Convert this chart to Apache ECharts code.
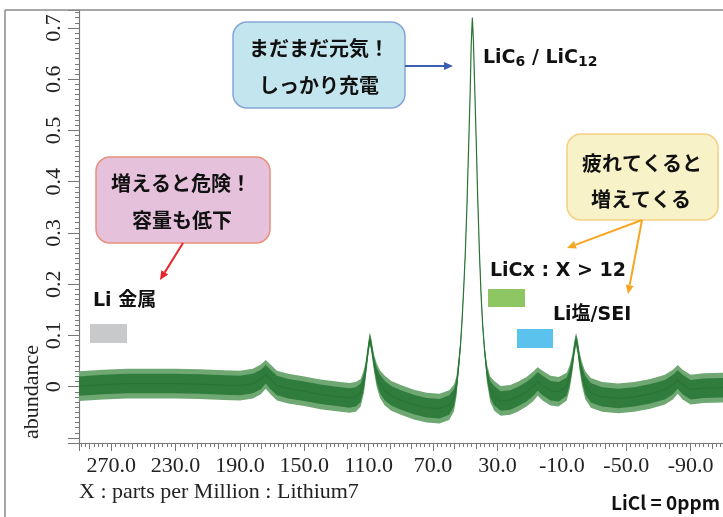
<!DOCTYPE html>
<html>
<head>
<meta charset="utf-8">
<script src="https://cdn.jsdelivr.net/npm/echarts@6/dist/echarts.min.js"></script>
<style>
html, body { margin: 0; padding: 0; background: #fff; }
#chart { width: 723px; height: 517px; }
</style>
</head>
<body>
<div id="chart"></div>
<script>
// 7Li NMR spectrum (ppm, abundance)
var ppm = [290, 275, 260, 245, 230, 215, 200, 190, 182, 177, 174, 171, 167, 160, 150, 140, 130, 122, 118, 115,
           113, 112, 111, 110, 109.3, 108.5, 107.5, 106.5, 105, 103, 100, 96, 90, 82, 74, 66, 60, 57, 55.5, 54,
           53, 52, 51, 50, 49, 48, 47, 46.3, 45.6, 44.9, 44.2, 43.3, 42.3, 41.2, 40.2, 39.2, 38, 36.5, 34.5, 32,
           28, 22, 17, 12, 8, 5, 2, -3, -8, -13, -15, -16.5, -17.8, -18.8, -19.8, -21, -22.5, -24.5, -28, -35,
           -45, -55, -65, -74, -79, -82, -85, -90, -98, -110, -130];
var abundance = [0.001, 0.004, 0.006, 0.006, 0.006, 0.005, 0.003, 0.002, 0.006, 0.014, 0.024, 0.014, 0.002, -0.004, -0.009, -0.015, -0.019, -0.022, -0.02, -0.012,
                 0.01, 0.03, 0.055, 0.08, 0.093, 0.083, 0.062, 0.043, 0.022, 0.005, -0.008, -0.018, -0.026, -0.035, -0.041, -0.043, -0.036, -0.022, 0.0, 0.045,
                 0.08, 0.13, 0.19, 0.26, 0.35, 0.46, 0.57, 0.67, 0.72, 0.67, 0.59, 0.49, 0.37, 0.26, 0.18, 0.12, 0.07, 0.025, -0.005, -0.018,
                 -0.028, -0.026, -0.019, -0.01, 0.0, 0.01, 0.002, -0.008, -0.01, 0.0, 0.02, 0.045, 0.075, 0.092, 0.078, 0.05, 0.025, 0.003, -0.012, -0.02,
                 -0.023, -0.02, -0.014, -0.006, 0.004, 0.014, 0.004, -0.006, -0.003, -0.002, -0.002];
// half thickness of the noise band: dense core and the spikes
var noiseCore = [0.019, 0.019, 0.019, 0.019, 0.019, 0.019, 0.019, 0.019, 0.019, 0.019, 0.018, 0.019, 0.019, 0.019, 0.019, 0.019, 0.019, 0.019, 0.019, 0.018,
                 0.015, 0.012, 0.01, 0.009, 0.009, 0.009, 0.01, 0.012, 0.015, 0.018, 0.019, 0.019, 0.019, 0.019, 0.019, 0.019, 0.019, 0.017, 0.013, 0.01,
                 0.007, 0.005, 0.004, 0.003, 0.003, 0.002, 0.002, 0.002, 0.0015, 0.002, 0.002, 0.002, 0.003, 0.003, 0.004, 0.005, 0.007, 0.012, 0.016, 0.019,
                 0.019, 0.019, 0.019, 0.019, 0.019, 0.018, 0.019, 0.019, 0.019, 0.018, 0.015, 0.012, 0.01, 0.009, 0.01, 0.012, 0.015, 0.018, 0.019, 0.019,
                 0.019, 0.019, 0.019, 0.019, 0.019, 0.018, 0.019, 0.019, 0.019, 0.019, 0.019];
var noiseSpike = [0.029, 0.029, 0.029, 0.029, 0.029, 0.029, 0.029, 0.029, 0.029, 0.029, 0.028, 0.029, 0.029, 0.029, 0.029, 0.029, 0.029, 0.029, 0.029, 0.027,
                  0.023, 0.018, 0.015, 0.013, 0.013, 0.013, 0.015, 0.018, 0.023, 0.027, 0.029, 0.029, 0.029, 0.029, 0.029, 0.029, 0.029, 0.026, 0.02, 0.015,
                  0.01, 0.007, 0.005, 0.004, 0.004, 0.003, 0.003, 0.003, 0.002, 0.003, 0.003, 0.003, 0.004, 0.004, 0.005, 0.007, 0.01, 0.018, 0.025, 0.029,
                  0.029, 0.029, 0.029, 0.029, 0.029, 0.028, 0.029, 0.029, 0.029, 0.027, 0.023, 0.018, 0.015, 0.013, 0.015, 0.018, 0.023, 0.027, 0.029, 0.029,
                  0.029, 0.029, 0.029, 0.029, 0.029, 0.028, 0.029, 0.029, 0.029, 0.029, 0.029];

var xLabels = [270, 230, 190, 150, 110, 70, 30, -10, -50, -90];
var yLabels = [0, 0.1, 0.2, 0.3, 0.4, 0.5, 0.6, 0.7];

var centre = [];
for (var i = 0; i < ppm.length; i++) {
    centre.push([ppm[i], abundance[i]]);
}

var axisGrey = '#777';
var jp = '"Noto Sans CJK JP", "Noto Sans", sans-serif';
var latin = '"DejaVu Sans", "Noto Sans CJK JP", sans-serif';
var serif = '"Liberation Serif", "DejaVu Serif", serif';

function box(x, y, w, h, fill, stroke) {
    return { type: 'rect', shape: { x: x, y: y, width: w, height: h, r: 14 },
             style: { fill: fill, stroke: stroke, lineWidth: 1.5 }, z: 10 };
}
function label(text, x, y, opts) {
    opts = opts || {};
    return { type: 'text', x: x, y: y, rotation: opts.rotation || 0, z: 11,
             style: { text: text, fill: opts.fill || '#111', align: opts.align || 'left', verticalAlign: 'middle',
                      font: opts.font || ('bold 19px ' + latin), rich: opts.rich, lineHeight: opts.lineHeight } };
}
function swatch(x, y, w, h, color) {
    return { type: 'rect', shape: { x: x, y: y, width: w, height: h }, style: { fill: color }, z: 10 };
}
function arrow(x1, y1, x2, y2, color) {
    var a = Math.atan2(y2 - y1, x2 - x1), L = 9, W = 4;
    var bx = x2 - L * Math.cos(a), by = y2 - L * Math.sin(a);
    return [
        { type: 'line', shape: { x1: x1, y1: y1, x2: bx, y2: by }, style: { stroke: color, lineWidth: 2 }, z: 10 },
        { type: 'polygon', shape: { points: [[x2, y2], [bx - W * Math.sin(a), by + W * Math.cos(a)], [bx + W * Math.sin(a), by - W * Math.cos(a)]] },
          style: { fill: color }, z: 10 }
    ];
}

// noise band drawn as one polygon through the axes
function band(halfWidth, color) {
    return function (params, api) {
        var pts = [];
        for (var k = 0; k < ppm.length; k++) pts.push(api.coord([ppm[k], abundance[k] + halfWidth[k]]));
        for (var k = ppm.length - 1; k >= 0; k--) pts.push(api.coord([ppm[k], abundance[k] - halfWidth[k]]));
        return { type: 'polygon', shape: { points: pts }, style: { fill: color } };
    };
}

var chartDom = document.getElementById('chart');
var myChart = echarts.init(chartDom);
var option;

var graphics = [
    { type: 'line', shape: { x1: 5, y1: 10, x2: 723, y2: 10 }, style: { stroke: '#8a8a8a', lineWidth: 1.5 }, z: 5 },
    { type: 'line', shape: { x1: 5, y1: 10, x2: 5, y2: 517 }, style: { stroke: '#8a8a8a', lineWidth: 1.5 }, z: 5 },
    label('abundance', 32, 392, { rotation: Math.PI / 2, align: 'center', font: '22px ' + serif, fill: '#222' }),
    label('X : parts per Million : Lithium7', 79, 492, { font: '22px ' + serif, fill: '#222' }),
    label('LiCl = 0ppm', 720, 503, { align: 'right', font: 'bold 19px ' + jp }),

    box(233, 22, 172, 86, '#c3e5ed', '#86a6d6'),
    label('まだまだ元気！', 319, 48, { align: 'center', font: 'bold 20px ' + jp }),
    label('しっかり充電', 319, 85, { align: 'center', font: 'bold 20px ' + jp }),
    label('LiC{s|6} / LiC{s|12}', 483, 58, { lineHeight: 22,
        rich: { s: { fontSize: 14, fontWeight: 'bold', fontFamily: latin, lineHeight: 12, verticalAlign: 'bottom' } } }),

    box(96, 157, 174, 86, '#e5c1dc', '#e9907c'),
    label('増えると危険！', 181, 183, { align: 'center', font: 'bold 20px ' + jp }),
    label('容量も低下', 182, 220, { align: 'center', font: 'bold 20px ' + jp }),
    label('Li 金属', 93, 301),
    swatch(90, 324, 37, 19, '#c8c9cb'),

    box(567, 134, 151, 86, '#f8f2c9', '#f5cf82'),
    label('疲れてくると', 642, 163, { align: 'center', font: 'bold 20px ' + jp }),
    label('増えてくる', 641, 199, { align: 'center', font: 'bold 20px ' + jp }),
    label('LiCx : X > 12', 490, 271),
    swatch(488, 289, 37, 18, '#8dc663'),
    label('Li塩/SEI', 553, 315),
    swatch(517, 329, 36, 19, '#5bc2ee')
];
graphics = graphics.concat(arrow(405, 66, 453, 66, '#3a5fb5'));
graphics = graphics.concat(arrow(183, 243, 160, 280, '#e8262a'));
graphics = graphics.concat(arrow(642, 220, 567, 248, '#f5a623'));
graphics = graphics.concat(arrow(642, 220, 628, 294, '#f5a623'));

option = {
    animation: false,
    backgroundColor: '#fff',
    grid: { left: 79, top: 10, width: 676, height: 433, containLabel: false, outerBoundsMode: 'none' },
    xAxis: [
        {
            type: 'value', inverse: true, min: -130, max: 290, interval: 40, position: 'bottom',
            axisLine: { show: true, onZero: false, lineStyle: { color: axisGrey, width: 1.2 } },
            axisTick: { show: true, length: 8, lineStyle: { color: axisGrey, width: 1 } },
            minorTick: { show: true, splitNumber: 15, length: 4, lineStyle: { color: axisGrey, width: 1 } },
            splitLine: { show: false },
            axisLabel: {
                showMinLabel: false, showMaxLabel: false, margin: 12,
                fontFamily: serif, fontSize: 22, color: '#222',
                formatter: function (v) { return xLabels.indexOf(Math.round(v)) >= 0 ? v.toFixed(1) : ''; }
            }
        },
        {
            // medium ticks every third of a labelled step
            type: 'value', inverse: true, min: -130, max: 290, interval: 40 / 3, position: 'bottom',
            axisLine: { show: false, onZero: false }, axisLabel: { show: false }, splitLine: { show: false },
            axisTick: { show: true, length: 6, lineStyle: { color: axisGrey, width: 1 } }
        }
    ],
    yAxis: {
        type: 'value', min: -0.11, max: 0.735, minInterval: 0.1, maxInterval: 0.1, position: 'left',
        axisLine: { show: true, onZero: false, lineStyle: { color: axisGrey, width: 1.2 } },
        axisTick: { show: true, length: 11, lineStyle: { color: axisGrey, width: 1 } },
        minorTick: { show: true, splitNumber: 10, length: 4, lineStyle: { color: axisGrey, width: 1 } },
        splitLine: { show: false },
        axisLabel: {
            showMinLabel: false, showMaxLabel: false, rotate: 90, margin: 14,
            fontFamily: serif, fontSize: 22, color: '#222',
            formatter: function (v) {
                var r = Math.round(v * 10) / 10;
                return yLabels.indexOf(r) >= 0 && Math.abs(v - r) < 1e-6 ? String(r) : '';
            }
        }
    },
    series: [
        { type: 'custom', coordinateSystem: 'cartesian2d', data: [[ppm[0], abundance[0]]], silent: true,
          renderItem: band(noiseSpike, '#6fa872'), z: 2 },
        { type: 'custom', coordinateSystem: 'cartesian2d', data: [[ppm[0], abundance[0]]], silent: true,
          renderItem: band(noiseCore, '#2f7c3d'), z: 3 },
        { type: 'line', data: centre, symbol: 'none', silent: true,
          lineStyle: { color: '#2a7436', width: 1.2 }, z: 4 }
    ],
    graphic: graphics
};

option && myChart.setOption(option);
</script>
</body>
</html>
